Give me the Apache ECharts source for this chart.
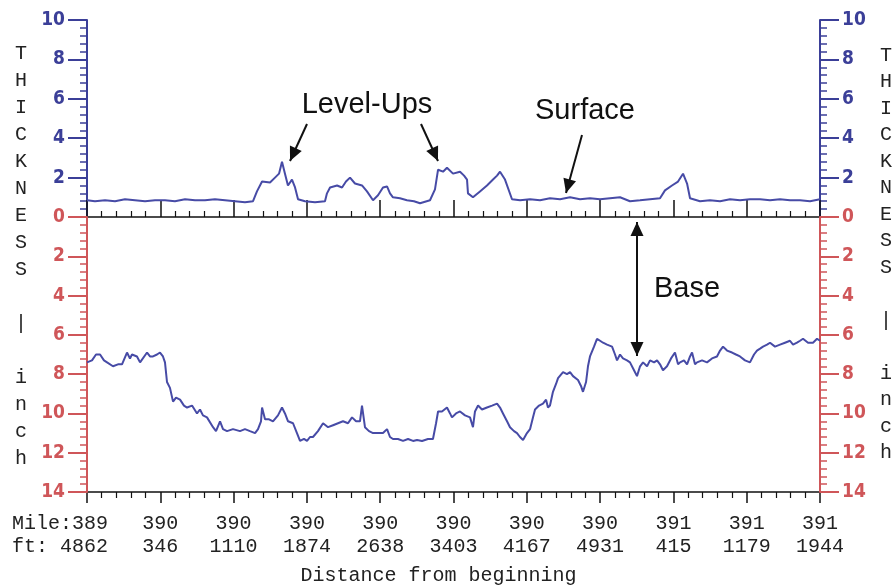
<!DOCTYPE html>
<html>
<head>
<meta charset="utf-8">
<script src="https://cdn.jsdelivr.net/npm/echarts@6/dist/echarts.min.js"></script>
<style>
html,body{margin:0;padding:0;background:#fff;}
#chart{width:893px;height:586px;}
</style>
</head>
<body>
<div id="chart"></div>
<script>
// ---- Data (distance from beginning in ft, thickness in inch) ----
const mileLabels = ['389','390','390','390','390','390','390','390','391','391','391'];
const ftLabels = ['4862','346','1110','1874','2638','3403','4167','4931','415','1179','1944'];
const tickStep = 764.2;   // ft between labelled ticks
const totalDist = 7642;   // ft covered by the plot

const surfaceDist = [0,83,188,292,396,500,605,709,813,917,1022,1126,1230,1334,1439,1543,1647,1731,1772,1825,1908,1960,2002,2033,2064,2095,2137,2169,2200,2273,2377,2481,2502,2534,2607,2659,2700,2742,2794,2867,2919,2982,3034,3086,3128,3159,3190,3263,3336,3409,3472,3576,3628,3660,3712,3753,3816,3889,3931,3962,3972,4024,4097,4170,4233,4275,4306,4358,4431,4515,4619,4723,4827,4932,5036,5140,5244,5349,5453,5557,5661,5766,5870,5974,6026,6099,6162,6214,6256,6287,6391,6495,6600,6704,6808,6912,7017,7121,7225,7329,7434,7538,7642];
const surfaceVal = [0.85,0.8,0.85,0.8,0.9,0.85,0.8,0.85,0.85,0.8,0.9,0.85,0.85,0.9,0.85,0.8,0.75,0.8,1.3,1.8,1.75,2.0,2.2,2.8,2.2,1.6,1.9,1.5,0.9,0.8,0.75,0.8,1.2,1.5,1.6,1.5,1.8,2.0,1.7,1.6,1.3,0.85,1.1,1.5,1.55,1.2,1.0,0.95,0.85,0.8,0.7,0.85,1.4,2.4,2.3,2.5,2.2,2.3,2.1,1.9,1.2,1.0,1.3,1.6,1.9,2.1,2.3,1.9,0.9,0.85,0.9,0.85,0.95,0.9,1.0,0.9,0.95,0.9,0.95,1.0,0.8,0.85,0.9,0.95,1.35,1.6,1.8,2.2,1.7,0.95,0.8,0.85,0.8,0.9,0.85,0.9,0.9,0.85,0.9,0.85,0.85,0.8,0.9];

const baseDist = [0,52,94,136,177,209,271,323,365,417,448,469,521,553,573,626,657,688,730,761,792,813,834,865,897,928,970,1011,1043,1095,1147,1178,1209,1251,1314,1345,1387,1418,1460,1522,1595,1647,1699,1752,1783,1814,1825,1856,1898,1939,1991,2033,2064,2096,2148,2189,2221,2262,2294,2325,2356,2408,2461,2513,2565,2617,2669,2721,2763,2805,2846,2867,2898,2940,2982,3034,3086,3128,3159,3190,3242,3295,3347,3399,3441,3493,3555,3607,3639,3660,3701,3753,3785,3805,3847,3889,3941,3993,4024,4045,4077,4118,4170,4223,4275,4306,4337,4379,4410,4452,4483,4514,4546,4587,4619,4650,4671,4713,4754,4786,4806,4827,4858,4890,4911,4963,5004,5036,5067,5119,5150,5171,5203,5223,5244,5286,5317,5349,5380,5422,5474,5505,5526,5557,5588,5630,5661,5703,5734,5766,5797,5839,5870,5912,5943,5974,6005,6047,6089,6130,6162,6183,6224,6256,6287,6308,6339,6360,6412,6464,6516,6568,6600,6631,6673,6725,6766,6808,6860,6912,6954,6985,7017,7048,7090,7121,7173,7225,7277,7329,7361,7402,7434,7465,7517,7569,7611,7642];
const baseVal = [7.4,7.3,7.0,7.0,7.3,7.4,7.6,7.5,7.5,6.9,7.2,7.0,7.1,7.4,7.5,6.9,7.1,7.1,7.0,6.9,7.1,7.4,8.4,8.7,9.4,9.2,9.3,9.6,9.7,9.6,10.0,9.8,10.1,10.2,10.7,10.9,10.4,10.8,10.9,10.8,10.9,10.8,10.9,11.0,10.8,10.4,9.7,10.3,10.3,10.4,10.1,9.7,10.0,10.4,10.5,11.0,11.4,11.3,11.4,11.2,11.2,10.9,10.5,10.7,10.6,10.5,10.4,10.5,10.2,10.4,10.4,9.6,10.7,10.9,11.0,11.0,11.0,10.8,11.2,11.3,11.3,11.4,11.3,11.4,11.35,11.4,11.3,11.3,10.5,9.9,9.9,9.7,10.0,10.2,10.0,9.9,10.1,10.2,10.7,9.9,9.6,9.8,9.7,9.6,9.5,9.7,10.0,10.4,10.7,10.9,11.0,11.2,11.35,11.0,10.8,10.2,9.8,9.6,9.5,9.3,9.7,9.6,8.9,8.5,8.2,7.9,8.0,7.9,8.1,8.3,8.6,8.9,8.4,7.6,7.1,6.6,6.2,6.3,6.4,6.5,6.6,7.0,7.3,7.0,7.2,7.3,7.4,7.8,8.1,7.6,7.4,7.6,7.3,7.4,7.3,7.5,7.8,7.6,7.2,6.9,7.5,7.4,7.3,7.5,7.1,6.9,7.5,7.4,7.3,7.4,7.2,7.1,6.8,6.6,6.8,6.9,7.0,7.1,7.3,7.4,7.0,6.8,6.7,6.6,6.5,6.4,6.6,6.5,6.4,6.3,6.5,6.4,6.3,6.2,6.4,6.4,6.2,6.3];

const sideLabel = ['T','H','I','C','K','N','E','S','S','','|','','i','n','c','h'];
const annotations = ['Level-Ups','Surface','Base'];
const xAxisTitle = 'Distance from beginning';

// ---- Styles ----
const BLUE = '#3b3f98';
const RED = '#cf5659';
const LINE = '#474ba6';
const MONO = "'Liberation Mono','DejaVu Sans Mono',monospace";
const NARROW = "'Liberation Sans Narrow','DejaVu Sans Condensed','Liberation Sans',sans-serif";

const chart = echarts.init(document.getElementById('chart'), null, {renderer: 'canvas'});

function yAx(gridIndex, pos, color, max, inverse, hideZero, z) {
  return {
    type: 'value', gridIndex: gridIndex, position: pos, min: 0, max: max, interval: 2,
    inverse: inverse, z: z,
    axisLine: {show: true, lineStyle: {color: color, width: 2}},
    axisTick: {show: true, length: 19, lineStyle: {color: color, width: 2}},
    minorTick: {show: true, splitNumber: 5, length: 7, lineStyle: {color: color, width: 1.5}},
    splitLine: {show: false},
    axisLabel: {
      color: color, fontFamily: NARROW, fontSize: 19, fontWeight: 'bold', margin: 22,
      formatter: function (v) { return (hideZero && v === 0) ? '' : String(v); }
    }
  };
}

// the first label ("Mile:" / "ft:" prefixed) is drawn as a left-aligned text below
function xLabel(v) {
  const i = Math.round(v / tickStep);
  if (i === 0) return '';
  return mileLabels[i] + '\n' + ftLabels[i];
}

function arrow(x1, y1, x2, y2, both) {
  const els = [];
  els.push({type: 'line', shape: {x1: x1, y1: y1, x2: x2, y2: y2}, style: {stroke: '#111', lineWidth: 2}, z: 50});
  function head(tx, ty, fx, fy) {
    const dx = tx - fx, dy = ty - fy, L = Math.sqrt(dx*dx + dy*dy);
    const ux = dx / L, uy = dy / L, len = 14, hw = 6.5;
    const bx = tx - ux * len, by = ty - uy * len;
    return {type: 'polygon', shape: {points: [[tx, ty], [bx - uy*hw, by + ux*hw], [bx + uy*hw, by - ux*hw]]}, style: {fill: '#111'}, z: 51};
  }
  els.push(head(x2, y2, x1, y1));
  if (both) els.push(head(x1, y1, x2, y2));
  return els;
}

const graphics = [
  {type: 'text', left: 15, top: 40, z: 40, style: {text: sideLabel.join('\n'), font: '20px ' + MONO, lineHeight: 27, fill: '#222', align: 'center'}},
  {type: 'text', left: 880, top: 42, z: 40, style: {text: sideLabel.join('\n'), font: '20px ' + MONO, lineHeight: 26.5, fill: '#222'}},
  {type: 'text', left: 12, top: 512, z: 40, style: {text: 'Mile:' + mileLabels[0] + '\nft: ' + ftLabels[0], font: '20px ' + MONO, lineHeight: 23, fill: '#222'}},
  {type: 'text', x: 367, y: 105, z: 40, style: {text: annotations[0], font: '29px "Liberation Sans", Arial, sans-serif', fill: '#111', align: 'center', verticalAlign: 'middle'}},
  {type: 'text', x: 585, y: 111, z: 40, style: {text: annotations[1], font: '29px "Liberation Sans", Arial, sans-serif', fill: '#111', align: 'center', verticalAlign: 'middle'}},
  {type: 'text', x: 687, y: 289, z: 40, style: {text: annotations[2], font: '29px "Liberation Sans", Arial, sans-serif', fill: '#111', align: 'center', verticalAlign: 'middle'}}
].concat(arrow(307, 124, 290, 161, false))
 .concat(arrow(421, 124, 438, 161, false))
 .concat(arrow(582, 135, 566, 193, false))
 .concat(arrow(637, 222, 637, 356, true));

const option = {
  backgroundColor: '#fff',
  animation: false,
  grid: [
    {left: 87, right: 73, top: 20, height: 197, outerBoundsMode: 'none', containLabel: false},
    {left: 87, right: 73, top: 217, height: 275, outerBoundsMode: 'none', containLabel: false}
  ],
  xAxis: [
    {
      type: 'value', gridIndex: 0, min: 0, max: totalDist, interval: tickStep, position: 'bottom',
      axisLine: {show: true, onZero: false, lineStyle: {color: '#111', width: 1.5}},
      axisTick: {show: true, inside: true, length: 17, lineStyle: {color: '#111', width: 1.5}},
      minorTick: {show: true, splitNumber: 5, length: 6, lineStyle: {color: '#111', width: 1.2}},
      axisLabel: {show: false}, splitLine: {show: false}
    },
    {
      type: 'value', gridIndex: 1, min: 0, max: totalDist, interval: tickStep, position: 'bottom',
      axisLine: {show: true, onZero: false, lineStyle: {color: '#111', width: 1.5}},
      axisTick: {show: true, length: 11, lineStyle: {color: '#111', width: 1.5}},
      minorTick: {show: true, splitNumber: 5, length: 6, lineStyle: {color: '#111', width: 1.2}},
      splitLine: {show: false},
      axisLabel: {color: '#222', fontFamily: MONO, fontSize: 20, lineHeight: 23, margin: 20,
        showMinLabel: true, showMaxLabel: true, hideOverlap: false, formatter: xLabel},
      name: xAxisTitle, nameLocation: 'middle', nameGap: 74,
      nameTextStyle: {color: '#222', fontFamily: MONO, fontSize: 20, padding: [0, 30, 0, 0]}
    }
  ],
  yAxis: [
    yAx(0, 'left', BLUE, 10, false, true, 0),
    yAx(0, 'right', BLUE, 10, false, true, 0),
    yAx(1, 'left', RED, 14, true, false, 2),
    yAx(1, 'right', RED, 14, true, false, 2)
  ],
  series: [
    {
      name: 'Surface', type: 'line', xAxisIndex: 0, yAxisIndex: 0, showSymbol: false, z: 5,
      lineStyle: {color: LINE, width: 2}, itemStyle: {color: LINE},
      data: surfaceDist.map(function (d, i) { return [d, surfaceVal[i]]; })
    },
    {
      name: 'Base', type: 'line', xAxisIndex: 1, yAxisIndex: 2, showSymbol: false, z: 5,
      lineStyle: {color: LINE, width: 2}, itemStyle: {color: LINE},
      data: baseDist.map(function (d, i) { return [d, baseVal[i]]; })
    }
  ],
  graphic: graphics
};

chart.setOption(option);
</script>
</body>
</html>
